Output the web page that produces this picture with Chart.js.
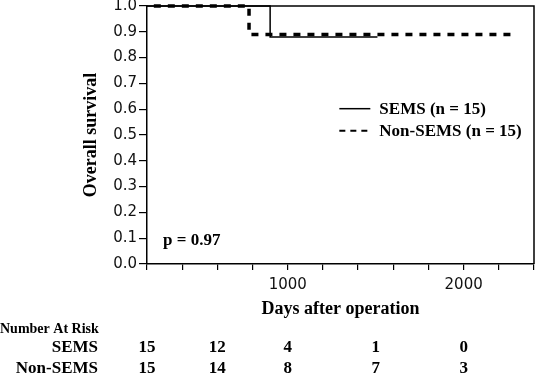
<!DOCTYPE html>
<html lang="en">
<head>
  <meta charset="UTF-8">
  <title>Overall survival</title>
  <script src="https://cdn.jsdelivr.net/npm/chart.js"></script>
  <style>
    html, body { margin: 0; padding: 0; background: #fff; }
    #wrap { width: 540px; height: 377px; }
  </style>
</head>
<body>
  <div id="wrap"><canvas id="km" width="540" height="377"></canvas></div>

  <script>
    // Kaplan-Meier curves (days, survival)
    const semsDays = [0, 900, 1510];
    const semsSurv = [1.0, 0.88, 0.88];
    const nonSemsDays = [0, 780, 2300];
    const nonSemsSurv = [1.0, 0.89, 0.89];

    const seriesNames = ['SEMS (n = 15)', 'Non-SEMS (n = 15)'];
    const pValue = 'p = 0.97';

    // Number at risk table
    const riskDays = [200, 600, 1000, 1500, 2000];
    const riskGroups = ['SEMS', 'Non-SEMS'];
    const riskSems = [15, 12, 4, 1, 0];
    const riskNonSems = [15, 14, 8, 7, 3];

    const xLabels = [1000, 2000];
    const serif = '"Liberation Serif", "Times New Roman", serif';
    const sans = '"DejaVu Sans", sans-serif';

    const toPoints = (xs, ys) => xs.map((x, i) => ({ x: x, y: ys[i] }));

    // marco completo, leyenda, p y tabla de riesgo
    const extras = {
      id: 'extras',
      afterDraw(chart) {
        const { ctx, chartArea: a, scales } = chart;
        const xs = scales.x;
        ctx.save();
        ctx.strokeStyle = '#000';
        ctx.lineWidth = 1.5;
        ctx.beginPath();
        ctx.moveTo(a.left, a.top);
        ctx.lineTo(a.right, a.top);
        ctx.lineTo(a.right, a.bottom);
        ctx.stroke();

        // legend
        const ds = chart.data.datasets;
        const lx = a.left + (a.right - a.left) * 0.497;
        const ly = a.top + (a.bottom - a.top) * 0.398;
        ctx.font = 'bold 17px ' + serif;
        ctx.fillStyle = '#000';
        ctx.textBaseline = 'middle';
        ds.forEach((d, i) => {
          const y = ly + i * 22;
          ctx.setLineDash(i === 0 ? [] : [6, 5]);
          ctx.lineWidth = i === 0 ? 1.5 : 2;
          ctx.beginPath();
          ctx.moveTo(lx, y);
          ctx.lineTo(lx + 31, y);
          ctx.stroke();
          ctx.fillText(d.label, lx + 40, y + 1);
        });
        ctx.setLineDash([]);

        // p value
        ctx.fillText(pValue, a.left + 16, scales.y.getPixelForValue(0.09));

        // number at risk
        ctx.font = 'bold 14px ' + serif;
        ctx.textAlign = 'left';
        ctx.fillText('Number At Risk', 0, 329);
        ctx.font = 'bold 17px ' + serif;
        const rows = [riskSems, riskNonSems];
        riskGroups.forEach((g, r) => {
          const y = 348 + r * 21;
          ctx.textAlign = 'right';
          ctx.fillText(g, 98, y);
          ctx.textAlign = 'center';
          rows[r].forEach((v, i) => {
            ctx.fillText(String(v), xs.getPixelForValue(riskDays[i]), y);
          });
        });
        ctx.restore();
      }
    };

    const ctx = document.getElementById('km').getContext('2d');
    new Chart(ctx, {
      type: 'line',
      data: {
        datasets: [
          {
            label: seriesNames[0],
            data: toPoints(semsDays, semsSurv),
            borderColor: '#000',
            borderWidth: 1.5,
            stepped: 'before',
            pointRadius: 0,
            fill: false,
            clip: { left: 0, top: false, right: false, bottom: 0 }
          },
          {
            label: seriesNames[1],
            data: toPoints(nonSemsDays, nonSemsSurv),
            borderColor: '#000',
            borderWidth: 3.5,
            borderDash: [7, 7],
            stepped: 'before',
            pointRadius: 0,
            fill: false,
            clip: { left: 0, top: false, right: false, bottom: 0 }
          }
        ]
      },
      options: {
        responsive: false,
        animation: false,
        layout: { padding: { left: 0, top: 0, right: 2, bottom: 53 } },
        plugins: {
          legend: { display: false },
          tooltip: { enabled: false }
        },
        scales: {
          x: {
            type: 'linear',
            min: 200,
            max: 2400,
            afterFit: (s) => { s.height = 60; },
            ticks: {
              stepSize: 200,
              autoSkip: false,
              maxRotation: 0,
              padding: 6,
              color: '#111',
              font: { family: sans, size: 15 },
              callback: (v) => xLabels.includes(v) ? String(v) : ''
            },
            grid: { drawOnChartArea: false, tickLength: 6, color: '#000', lineWidth: 1.2 },
            border: { color: '#000', width: 1.5 },
            title: {
              display: true,
              text: 'Days after operation',
              color: '#000',
              font: { family: serif, size: 18, weight: 'bold' },
              padding: { top: 0, bottom: 4 }
            }
          },
          y: {
            min: 0,
            max: 1,
            afterFit: (s) => { s.width = 147; s.paddingTop = 6; },
            ticks: {
              stepSize: 0.1,
              padding: 2,
              color: '#111',
              font: { family: sans, size: 15 },
              callback: (v) => v.toFixed(1)
            },
            grid: { drawOnChartArea: false, tickLength: 8, color: '#000', lineWidth: 1.2 },
            border: { color: '#000', width: 1.5 },
            title: {
              display: true,
              text: 'Overall survival',
              color: '#000',
              font: { family: serif, size: 18, weight: 'bold' },
              padding: { top: 81, bottom: 0 }
            }
          }
        }
      },
      plugins: [extras]
    });
  </script>
</body>
</html>
